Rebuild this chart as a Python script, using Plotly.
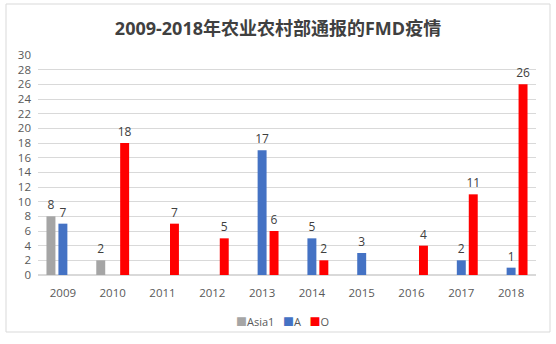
import plotly.graph_objects as go

years = ["2009", "2010", "2011", "2012", "2013", "2014", "2015", "2016", "2017", "2018"]
asia1 = [8, 2, None, None, None, None, None, None, None, None]
type_a = [7, None, None, None, 17, 5, 3, None, 2, 1]
type_o = [None, 18, 7, 5, 6, 2, None, 4, 11, 26]
y_ticks = list(range(0, 31, 2))
series = [("Asia1", asia1, "#A5A5A5"), ("A", type_a, "#4472C4"), ("O", type_o, "#FF0000")]

font_fam = "Open Sans, Noto Sans CJK SC, sans-serif"
txt_color = "#595959"

fig = go.Figure()
for name, vals, col in series:
    fig.add_trace(go.Bar(
        x=years, y=vals, name=name, marker=dict(color=col, line=dict(width=0)),
        text=[("" if v is None else str(v)) for v in vals],
        textposition="outside", cliponaxis=False, constraintext="none",
        textfont=dict(size=12, color="#404040", family=font_fam),
        showlegend=False,
    ))

legend_html = "&nbsp;&nbsp;&nbsp;".join(
    f"<span style='color:{col}'>■</span>{name}" for name, _, col in series
)

fig.update_layout(
    width=556, height=344,
    margin=dict(l=38, r=20, t=55, b=69, autoexpand=False),
    paper_bgcolor="white", plot_bgcolor="white",
    barmode="group", bargap=0.28, bargroupgap=0.25,
    title=dict(text="<b>2009-2018年农业农村部通报的FMD疫情</b>", x=0.5, xanchor="center",
               y=0.918, yanchor="middle",
               font=dict(size=18, color="#404040", family=font_fam)),
    font=dict(family=font_fam, color=txt_color, size=11),
    yaxis=dict(range=[0, 30], tickvals=y_ticks, showgrid=True, gridcolor="#D9D9D9",
               gridwidth=1, zeroline=True, zerolinecolor="#D9D9D9", ticks="",
               tickfont=dict(size=11.5, color=txt_color), ticklabelstandoff=6),
    xaxis=dict(showline=False, ticks="", tickfont=dict(size=11.5, color=txt_color),
               ticklabelstandoff=9),
    showlegend=False,
    annotations=[dict(text=legend_html, xref="paper", yref="paper", x=0.49, y=(275 - 321) / 220,
                      xanchor="center", yanchor="middle", showarrow=False,
                      font=dict(size=11, color=txt_color, family=font_fam))],
)

fig.add_shape(type="rect", xref="paper", yref="paper",
              x0=(6 - 38) / 498, x1=(550 - 38) / 498,
              y0=(275 - 332) / 220, y1=(275 - 4) / 220,
              line=dict(color="#D9D9D9", width=1), fillcolor="rgba(0,0,0,0)", layer="below")

fig.write_html("out.html")
